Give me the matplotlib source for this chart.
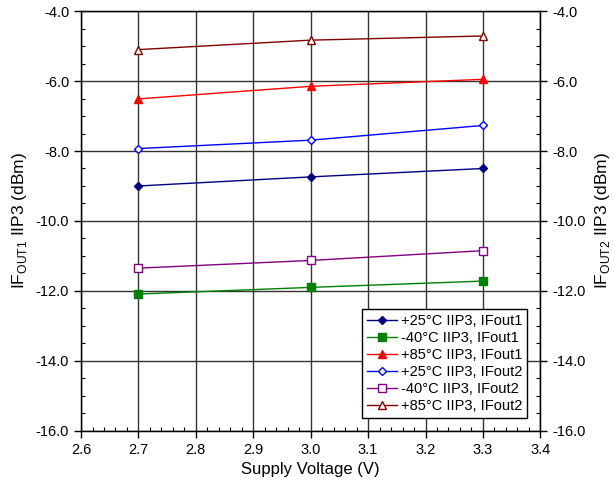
import matplotlib
matplotlib.use('Agg')
import matplotlib.pyplot as plt
from matplotlib.ticker import MultipleLocator, FormatStrFormatter

plt.rcParams['font.family'] = ['Liberation Sans', 'DejaVu Sans']
plt.rcParams['mathtext.fontset'] = 'custom'
plt.rcParams['mathtext.rm'] = 'Liberation Sans'
plt.rcParams['axes.unicode_minus'] = False

# ========== data ==========
voltage = [2.7, 3.0, 3.3]
p25_out1 = [-9.00, -8.74, -8.50]
m40_out1 = [-12.09, -11.90, -11.72]
p85_out1 = [-6.51, -6.15, -5.95]
p25_out2 = [-7.93, -7.69, -7.27]
m40_out2 = [-11.35, -11.13, -10.85]
p85_out2 = [-5.10, -4.83, -4.71]

labels = ['+25°C IIP3, IFout1', '-40°C IIP3, IFout1', '+85°C IIP3, IFout1',
          '+25°C IIP3, IFout2', '-40°C IIP3, IFout2', '+85°C IIP3, IFout2']
series = [p25_out1, m40_out1, p85_out1, p25_out2, m40_out2, p85_out2]
colors = ['#000080', '#008000', '#ff0000', '#0000ff', '#800080', '#800000']
markers = ['D', 's', '^', 'D', 's', '^']
filled = [True, True, True, False, False, False]
msizes = [4.5, 5.5, 6, 4.5, 5.5, 6]

fig = plt.figure(figsize=(6.14, 4.84), dpi=100)
ax = fig.add_axes([0.132, 0.110, 0.748, 0.867])

for y, lab, c, m, f, ms in zip(series, labels, colors, markers, filled, msizes):
    ax.plot(voltage, y, color=c, marker=m, markersize=ms, linewidth=1,
            markerfacecolor=c if f else 'white', markeredgecolor=c,
            markeredgewidth=1, label=lab, zorder=3)

ax.set_xlim(2.6, 3.4)
ax.set_ylim(-16, -4)
ax.xaxis.set_major_locator(MultipleLocator(0.1))
ax.xaxis.set_minor_locator(MultipleLocator(0.02))
ax.yaxis.set_major_locator(MultipleLocator(2))
ax.yaxis.set_minor_locator(MultipleLocator(0.5))
ax.xaxis.set_major_formatter(FormatStrFormatter('%.1f'))
ax.yaxis.set_major_formatter(FormatStrFormatter('%.1f'))

ax.grid(True, which='major', color='#333333', linewidth=1, zorder=1)
for s in ax.spines.values():
    s.set_color('black')
    s.set_linewidth(1)

ax.tick_params(which='major', direction='out', length=5, labelsize=10.5, width=1)
ax.tick_params(which='minor', direction='in', length=3, width=0.8)

ax.set_xlabel('Supply Voltage (V)', fontsize=12, labelpad=4)
ax.set_ylabel(r'IF$_{\rm OUT1}$ IIP3 (dBm)', fontsize=12.5, labelpad=5)

# right axis, same scale
ax2 = ax.twinx()
ax2.set_ylim(-16, -4)
ax2.yaxis.set_major_locator(MultipleLocator(2))
ax2.yaxis.set_minor_locator(MultipleLocator(0.5))
ax2.yaxis.set_major_formatter(FormatStrFormatter('%.1f'))
ax2.tick_params(which='major', direction='out', length=5, labelsize=10.5, width=1)
ax2.tick_params(which='minor', direction='in', length=3, width=0.8)
ax2.set_ylabel(r'IF$_{\rm OUT2}$ IIP3 (dBm)', fontsize=12.5, labelpad=5)

leg = ax.legend(loc='lower right', bbox_to_anchor=(0.972, 0.031), fontsize=10.5,
                fancybox=False, framealpha=1, edgecolor='black',
                handlelength=2.0, borderpad=0.35, labelspacing=0.2,
                handletextpad=0.3, borderaxespad=0)
leg.get_frame().set_linewidth(1)

fig.savefig('out.png', dpi=100)
